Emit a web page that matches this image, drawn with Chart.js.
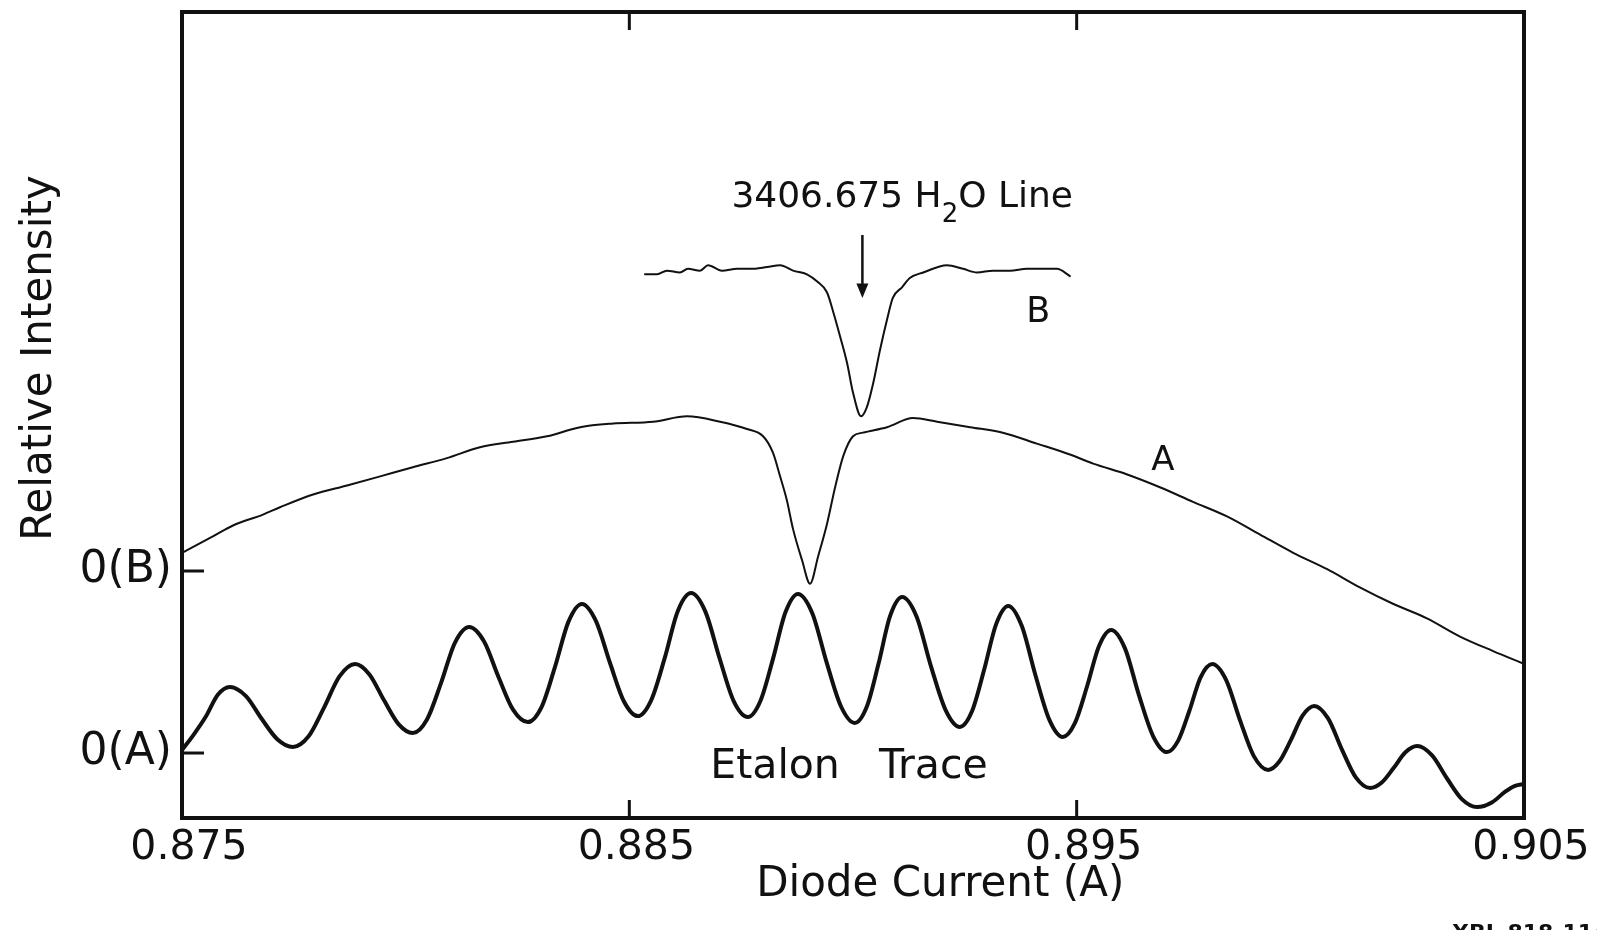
<!DOCTYPE html>
<html>
<head>
<meta charset="utf-8">
<script src="https://cdn.jsdelivr.net/npm/chart.js@4/dist/chart.umd.min.js"></script>
<style>
  html, body { margin: 0; padding: 0; background: #fff; }
  #wrap { width: 1597px; height: 930px; position: relative; }
</style>
</head>
<body>
<div id="wrap"><canvas id="chart"></canvas></div>
<script>
// values: x = diode current (A), y in arbitrary units with 0(A) = 0 and 0(B) = 1
let etalonX = [0.87500, 0.87527, 0.87554, 0.87580, 0.87607, 0.87643, 0.87678, 0.87713, 0.87748, 0.87783,
  0.87817, 0.87852, 0.87887, 0.87919, 0.87952, 0.87984, 0.88016, 0.88048, 0.88079, 0.88110,
  0.88142, 0.88175, 0.88208, 0.88240, 0.88273, 0.88304, 0.88334, 0.88364, 0.88394, 0.88425,
  0.88457, 0.88488, 0.88519, 0.88549, 0.88579, 0.88608, 0.88638, 0.88670, 0.88702, 0.88733,
  0.88765, 0.88793, 0.88821, 0.88849, 0.88877, 0.88909, 0.88941, 0.88973, 0.89004, 0.89031,
  0.89057, 0.89083, 0.89110, 0.89142, 0.89174, 0.89207, 0.89239, 0.89266, 0.89293, 0.89320,
  0.89347, 0.89377, 0.89408, 0.89439, 0.89469, 0.89496, 0.89523, 0.89550, 0.89577, 0.89608,
  0.89639, 0.89671, 0.89702, 0.89727, 0.89752, 0.89777, 0.89803, 0.89834, 0.89865, 0.89896,
  0.89928, 0.89953, 0.89979, 0.90005, 0.90031, 0.90062, 0.90093, 0.90124, 0.90156, 0.90182,
  0.90208, 0.90235, 0.90261, 0.90294, 0.90328, 0.90361, 0.90395, 0.90429, 0.90458, 0.90480,
  0.90500];
let etalonY = [0.016, 0.104, 0.203, 0.320, 0.363, 0.313, 0.188, 0.076, 0.033, 0.092,
  0.247, 0.421, 0.489, 0.432, 0.288, 0.159, 0.110, 0.186, 0.384, 0.605,
  0.692, 0.614, 0.415, 0.238, 0.170, 0.254, 0.475, 0.722, 0.819, 0.727,
  0.493, 0.283, 0.203, 0.291, 0.521, 0.778, 0.879, 0.777, 0.518, 0.287,
  0.198, 0.286, 0.516, 0.773, 0.874, 0.768, 0.498, 0.257, 0.165, 0.255,
  0.490, 0.753, 0.857, 0.750, 0.479, 0.236, 0.143, 0.229, 0.456, 0.708,
  0.808, 0.700, 0.426, 0.182, 0.088, 0.164, 0.364, 0.588, 0.676, 0.575,
  0.320, 0.092, 0.005, 0.068, 0.232, 0.416, 0.489, 0.402, 0.181, -0.017,
  -0.093, -0.047, 0.072, 0.205, 0.258, 0.190, 0.019, -0.134, -0.192, -0.162,
  -0.084, 0.004, 0.038, -0.012, -0.140, -0.253, -0.297, -0.270, -0.212, -0.180,
  -0.170];

let traceAX = [0.87500, 0.87569, 0.87614, 0.87681, 0.87719, 0.87793, 0.87869, 0.87943, 0.88016, 0.88092,
  0.88166, 0.88240, 0.88316, 0.88390, 0.88464, 0.88553, 0.88629, 0.88703, 0.88763, 0.88799,
  0.88821, 0.88837, 0.88852, 0.88866, 0.88886, 0.88904, 0.88922, 0.88942, 0.88960, 0.88978,
  0.89000, 0.89022, 0.89076, 0.89134, 0.89188, 0.89262, 0.89335, 0.89411, 0.89485, 0.89537,
  0.89613, 0.89686, 0.89760, 0.89836, 0.89910, 0.89984, 0.90060, 0.90133, 0.90207, 0.90283,
  0.90357, 0.90431, 0.90500];
let traceAY = [1.10, 1.19, 1.25, 1.31, 1.35, 1.42, 1.47, 1.52, 1.57, 1.62,
  1.68, 1.71, 1.74, 1.79, 1.81, 1.82, 1.85, 1.82, 1.78, 1.74,
  1.65, 1.52, 1.39, 1.23, 1.06, 0.93, 1.08, 1.26, 1.46, 1.63,
  1.74, 1.76, 1.79, 1.84, 1.82, 1.79, 1.76, 1.70, 1.64, 1.59,
  1.53, 1.46, 1.38, 1.30, 1.20, 1.10, 1.01, 0.91, 0.82, 0.74,
  0.64, 0.56, 0.49];

let traceBX = [0.88535, 0.88562, 0.88584, 0.88613, 0.88631, 0.88658, 0.88676, 0.88707, 0.88741, 0.88770,
  0.88808, 0.88837, 0.88866, 0.88897, 0.88920, 0.88942, 0.88955, 0.88971, 0.88987, 0.89000,
  0.89018, 0.89031, 0.89045, 0.89060, 0.89076, 0.89089, 0.89110, 0.89127, 0.89157, 0.89210,
  0.89246, 0.89277, 0.89313, 0.89351, 0.89389, 0.89418, 0.89456, 0.89485];
let traceBY = [2.63, 2.63, 2.65, 2.64, 2.66, 2.65, 2.68, 2.65, 2.66, 2.66,
  2.67, 2.68, 2.65, 2.63, 2.59, 2.53, 2.43, 2.29, 2.14, 1.98,
  1.85, 1.90, 2.03, 2.21, 2.38, 2.50, 2.56, 2.61, 2.64, 2.68,
  2.66, 2.64, 2.65, 2.65, 2.66, 2.66, 2.66, 2.62];

let xTickValues = [0.875, 0.885, 0.895, 0.905];
let yTickValues = [0, 1];
let yTickLabels = ["0(A)", "0(B)"];

function pairs(xs, ys) {
  return xs.map((x, i) => ({ x: x, y: ys[i] }));
}

const ink = "#111";
const fam = "DejaVu Sans";

//frame, inward ticks, annotations and axis titles
const extras = {
  id: "extras",
  afterDraw(chart) {
    const ctx = chart.ctx;
    const a = chart.chartArea;
    const xs = chart.scales.x;
    const ys = chart.scales.y;
    const X = (v) => xs.getPixelForValue(v);
    const Y = (v) => ys.getPixelForValue(v);
    function line(x1, y1, x2, y2) {
      ctx.beginPath();
      ctx.moveTo(x1, y1);
      ctx.lineTo(x2, y2);
      ctx.stroke();
    }
    ctx.save();
    ctx.strokeStyle = ink;
    ctx.fillStyle = ink;
    ctx.lineWidth = 4;
    ctx.strokeRect(a.left, a.top, a.right - a.left, a.bottom - a.top);

    ctx.lineWidth = 3;
    xs.ticks.forEach((t) => {
      if (t.value <= xs.min || t.value >= xs.max) return;
      const px = X(t.value);
      line(px, a.bottom, px, a.bottom - 18);
      line(px, a.top, px, a.top + 18);
    });
    ys.ticks.forEach((t) => {
      const py = Y(t.value);
      line(a.left, py, a.left + 22, py);
    });

    // line label with subscript
    const main = "3406.675 H";
    const sub = "2";
    const rest = "O Line";
    ctx.font = "36px '" + fam + "'";
    const w1 = ctx.measureText(main).width;
    const w3 = ctx.measureText(rest).width;
    ctx.font = "26px '" + fam + "'";
    const w2 = ctx.measureText(sub).width;
    let lx = X(0.8911) - (w1 + w2 + w3) / 2;
    const by = Y(3.0);
    ctx.textAlign = "left";
    ctx.textBaseline = "alphabetic";
    ctx.font = "36px '" + fam + "'";
    ctx.fillText(main, lx, by);
    ctx.font = "26px '" + fam + "'";
    ctx.fillText(sub, lx + w1, by + 15);
    ctx.font = "36px '" + fam + "'";
    ctx.fillText(rest, lx + w1 + w2, by);

    // arrow to the line centre
    const ax = X(0.89021);
    ctx.lineWidth = 2.5;
    line(ax, Y(2.846), ax, Y(2.56));
    ctx.beginPath();
    ctx.moveTo(ax - 6, Y(2.58));
    ctx.lineTo(ax, Y(2.5));
    ctx.lineTo(ax + 6, Y(2.58));
    ctx.closePath();
    ctx.fill();

    ctx.textAlign = "center";
    ctx.font = "35px '" + fam + "'";
    ctx.fillText("B", X(0.89414), Y(2.368));
    ctx.font = "34px '" + fam + "'";
    ctx.fillText("A", X(0.89693), Y(1.555));

    ctx.font = "41px '" + fam + "'";
    if ("wordSpacing" in ctx) ctx.wordSpacing = "26px";
    ctx.fillText("Etalon Trace", X(0.88991), Y(-0.137));
    if ("wordSpacing" in ctx) ctx.wordSpacing = "0px";

    // axis titles
    ctx.font = "42px '" + fam + "'";
    ctx.fillText("Diode Current (A)", X(0.89195), a.bottom + 78);
    ctx.save();
    ctx.translate(a.left - 131, Y(2.17));
    ctx.rotate(-Math.PI / 2);
    ctx.font = "42px '" + fam + "'";
    ctx.fillText("Relative Intensity", 0, 0);
    ctx.restore();

    ctx.textAlign = "left";
    ctx.textBaseline = "top";
    ctx.font = "bold 22px '" + fam + "'";
    ctx.fillText("XBL 818-11465", 1452, 923);
    ctx.restore();
  },
};

const ctx = document.getElementById("chart").getContext("2d");
const chart = new Chart(ctx, {
  type: "line",
  data: {
    datasets: [
      {
        label: "Etalon Trace",
        data: pairs(etalonX, etalonY),
        borderColor: ink,
        borderWidth: 4,
      },
      {
        label: "A",
        data: pairs(traceAX, traceAY),
        borderColor: ink,
        borderWidth: 2,
      },
      {
        label: "B",
        data: pairs(traceBX, traceBY),
        borderColor: ink,
        borderWidth: 2,
      },
    ],
  },
  options: {
    responsive: true,
    maintainAspectRatio: false,
    animation: false,
    elements: {
      point: { radius: 0 },
      line: { cubicInterpolationMode: "monotone", fill: false, borderJoinStyle: "round", borderCapStyle: "round" },
    },
    layout: { padding: { left: 0, right: 73, top: 12, bottom: 0 } },
    plugins: { legend: { display: false }, tooltip: { enabled: false } },
    scales: {
      x: {
        type: "linear",
        min: 0.875,
        max: 0.905,
        afterFit(s) {
          s.height = 112;
          s.paddingLeft = 0;
          s.paddingRight = 0;
        },
        afterBuildTicks(s) {
          s.ticks = xTickValues.map((v) => ({ value: v }));
        },
        grid: { display: false, drawTicks: false },
        border: { display: false },
        ticks: {
          callback: (v) => v.toFixed(3),
          font: { family: fam, size: 41 },
          color: ink,
          padding: 6,
          labelOffset: 7,
          autoSkip: false,
          maxRotation: 0,
        },
      },
      y: {
        type: "linear",
        min: -0.357,
        max: 4.071,
        afterFit(s) {
          s.width = 182;
          s.paddingTop = 0;
          s.paddingBottom = 0;
        },
        afterBuildTicks(s) {
          s.ticks = yTickValues.map((v) => ({ value: v }));
        },
        grid: { display: false, drawTicks: false },
        border: { display: false },
        ticks: {
          callback: (v, i) => yTickLabels[i],
          font: { family: fam, size: 44 },
          color: ink,
          padding: 10,
        },
      },
    },
  },
  plugins: [extras],
});
</script>
</body>
</html>
